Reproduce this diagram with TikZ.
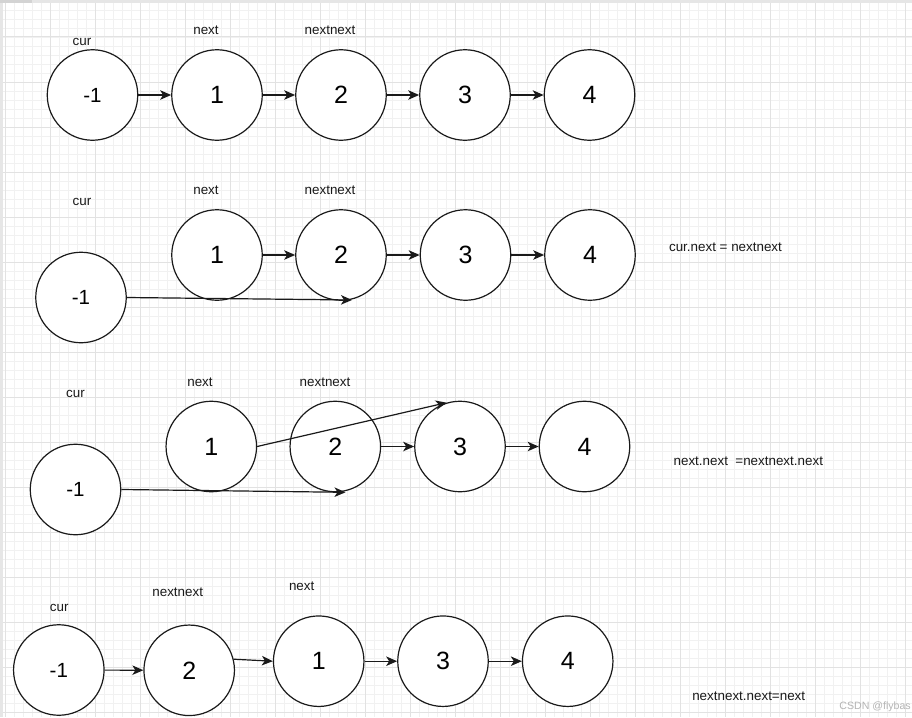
\documentclass[tikz,border=0pt]{standalone}
\usepackage{fontspec}
\setmainfont{Liberation Sans}
\usetikzlibrary{arrows.meta}
\definecolor{gridminor}{HTML}{F1F1F1}
\definecolor{gridmajor}{HTML}{E2E2E2}
\definecolor{edgegrey}{HTML}{E6E6E6}
\definecolor{ink}{HTML}{1A1A1A}
\definecolor{wm}{HTML}{B4B4B4}
\tikzset{
  nodecircle/.style={circle, draw=ink, line width=1.2pt, fill=white, minimum size=90.5pt, inner sep=0pt, font=\fontsize{25}{25}\selectfont},
  headcircle/.style={nodecircle, font=\fontsize{20.5}{20.5}\selectfont},
  ptr/.style={font=\fontsize{13.4}{14}\selectfont, inner sep=0pt, text=ink},
  note/.style={font=\fontsize{13.4}{14}\selectfont, inner sep=0pt, text=ink},
  link/.style={draw=ink, line width=1.2pt, -{Stealth[length=11pt, width=9.5pt, inset=3pt]}},
}
\begin{document}
\begin{tikzpicture}[x=1pt, y=-1pt]
\useasboundingbox (0,0) rectangle (912,717);
\fill[white] (0,0) rectangle (912,717);
% grid
\foreach \gx in {5,14,...,912} \draw[gridminor, line width=0.8pt] (\gx,0) -- (\gx,717);
\foreach \gy in {1,10,...,717} \draw[gridminor, line width=0.8pt] (0,\gy) -- (912,\gy);
\foreach \gx in {5,50,...,912} \draw[gridmajor, line width=1pt] (\gx,0) -- (\gx,717);
\foreach \gy in {37,82,...,717} \draw[gridmajor, line width=1pt] (0,\gy) -- (912,\gy);
\fill[edgegrey] (0,0) rectangle (3,717);
\fill[edgegrey] (0,0) rectangle (912,3);
\fill[gridmajor!150] (0,0) rectangle (32,3);

% Row 1
\node[headcircle] (a0) at (92.5,95) {-1};
\node[nodecircle] (a1) at (217,95) {1};
\node[nodecircle] (a2) at (341,95) {2};
\node[nodecircle] (a3) at (465,95) {3};
\node[nodecircle] (a4) at (589.5,95) {4};
\node[ptr] (acur) at (82,42) {cur};
\node[ptr] (anext) at (206,30) {next};
\node[ptr] (ann) at (330,30) {nextnext};
\draw[link] (a0) -- (a1);
\draw[link] (a1) -- (a2);
\draw[link] (a2) -- (a3);
\draw[link] (a3) -- (a4);

% Row 2
\node[nodecircle] (b1) at (217,255) {1};
\node[nodecircle] (b2) at (341,255) {2};
\node[nodecircle] (b3) at (465.5,255) {3};
\node[nodecircle] (b4) at (590,255) {4};
\node[headcircle] (b0) at (81,297.5) {-1};
\coordinate (bend) at (352,300);
\node[ptr] (bcur) at (82,202) {cur};
\node[ptr] (bnext) at (206,190.5) {next};
\node[ptr] (bnn) at (330,190.5) {nextnext};
\node[note] (bnote) at (725.5,247) {cur.next = nextnext};
\draw[link] (b1) -- (b2);
\draw[link] (b2) -- (b3);
\draw[link] (b3) -- (b4);
\draw[link] (b0.east) -- (bend);

% Row 3
\node[nodecircle] (c1) at (211.3,446.5) {1};
\node[nodecircle] (c2) at (335.3,446.5) {2};
\node[nodecircle] (c3) at (460,446.5) {3};
\node[nodecircle] (c4) at (584.5,446.5) {4};
\node[headcircle] (c0) at (75.5,489.5) {-1};
\coordinate (cend) at (345.5,492.3);
\node[ptr] (ccur) at (75.5,394) {cur};
\node[ptr] (cnext) at (200,382.5) {next};
\node[ptr] (cnn) at (325,382.5) {nextnext};
\node[note] (cnote) at (748.3,461.7) {next.next\ \ =nextnext.next};
\draw[link] (c0.east) -- (cend);
\draw[link] (c1.east) -- (c3.107);
\draw[link] (c2) -- (c3);
\draw[link] (c3) -- (c4);

% Row 4
\node[headcircle] (d0) at (58.8,670) {-1};
\node[nodecircle] (d2) at (189.2,670.3) {2};
\node[nodecircle] (d1) at (318.7,661.2) {1};
\node[nodecircle] (d3) at (443,661.2) {3};
\node[nodecircle] (d4) at (567.7,661.2) {4};
\node[ptr] (dcur) at (59.3,608.3) {cur};
\node[ptr] (dnn) at (177.7,592.5) {nextnext};
\node[ptr] (dnext) at (301.7,586) {next};
\node[note] (dnote) at (748.7,696) {nextnext.next=next};
\draw[link] (d0) -- (d2);
\draw[link] (d2.14) -- (d1.west);
\draw[link] (d1) -- (d3);
\draw[link] (d3) -- (d4);

% watermark
\node[anchor=east, inner sep=0pt, text=wm, font=\fontsize{10.6}{11}\selectfont] (wmark) at (911,707) {CSDN @flybas};
\end{tikzpicture}
\end{document}
